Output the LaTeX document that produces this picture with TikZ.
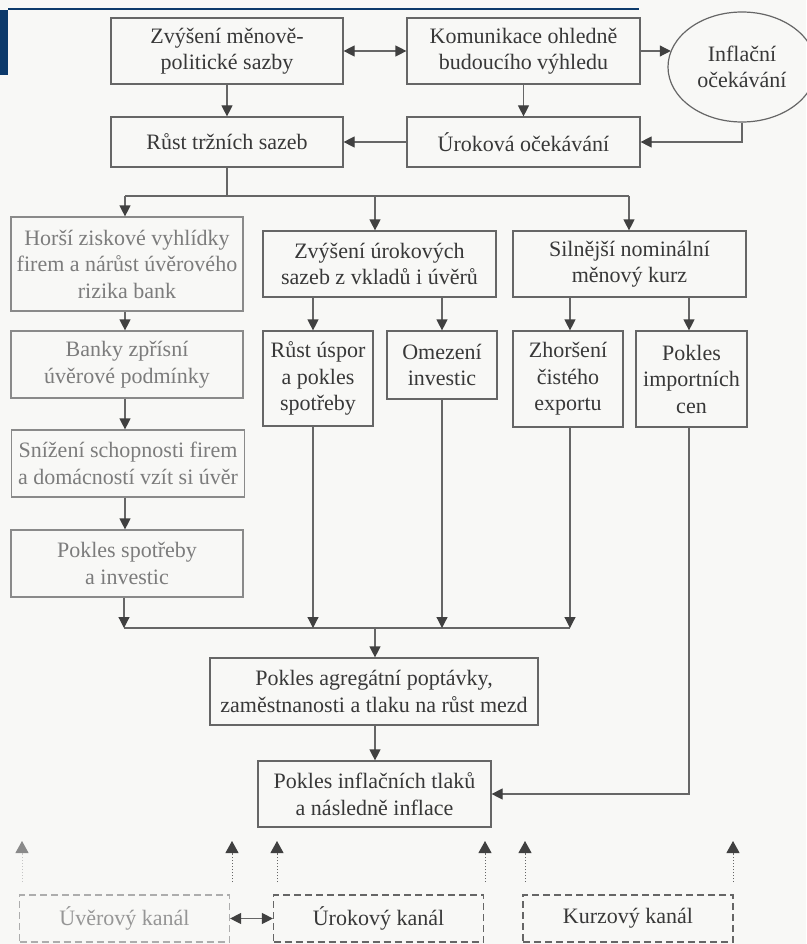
\documentclass[tikz,border=0pt]{standalone}
\usepackage{fontspec}
\setmainfont{Liberation Serif}
\usetikzlibrary{arrows.meta,shapes.geometric}
\definecolor{ink}{HTML}{383838}
\definecolor{lineC}{HTML}{666666}
\definecolor{tipC}{HTML}{404040}
\definecolor{faded}{HTML}{7C7C7C}
\definecolor{fadedline}{HTML}{8A8A8A}
\definecolor{navy}{HTML}{0D3A6B}
\definecolor{bgC}{HTML}{F8F8F6}
\begin{document}
\begin{tikzpicture}[x=1pt,y=-1pt,
  box/.style={draw=lineC, line width=1.2pt, text=ink, align=center, inner sep=0pt,
    font=\fontsize{22}{26.5}\selectfont},
  fbox/.style={box, text=faded, draw=fadedline},
  kbox/.style={box, dash pattern=on 7pt off 4pt, minimum width=210pt, minimum height=47pt},
  conn/.style={draw=lineC, line width=1.2pt},
  arr/.style={conn, -{Triangle[length=11pt,width=11pt,color=tipC]}},
  darr/.style={conn, {Triangle[length=11pt,width=11pt,color=tipC]}-{Triangle[length=11pt,width=11pt,color=tipC]}},
  dotl/.style={draw=lineC, line width=1pt, dotted},
  tiponly/.style={draw=lineC, line width=1pt, solid, -{Triangle[length=12pt,width=13pt,color=tipC]}},
]
\useasboundingbox (0,0) rectangle (806,944);
\fill[bgC] (0,0) rectangle (806,944);
% slide decoration
\fill[navy] (0,10) rectangle (8,75);
\draw[navy, line width=1.5pt] (8,9) -- (639,9);

% top row
\node[box, minimum width=232pt, minimum height=66pt] (b1) at (227,51) {Zvýšení měnově-\\politické sazby};
\node[box, minimum width=233pt, minimum height=66pt] (b2) at (523.5,51) {Komunikace ohledně\\budoucího výhledu};
\node[box, ellipse, minimum width=148pt, minimum height=110pt] (ell) at (742,67) {Inflační\\očekávání};
\node[box, minimum width=232pt, minimum height=50pt] (b3) at (227,142) {Růst tržních sazeb};
\node[box, minimum width=233pt, minimum height=50pt] (b4) at (523.5,142) {Úroková očekávání};

\draw[darr] (b1.east) -- (b2.west);
\draw[arr] (b2.east) -- (b2.east -| ell.167);
\draw[arr] (b1.south) -- (b3.north);
\draw[arr] (b2.south) -- (b4.north);
\draw[arr] (ell.south) |- (b4.east);
\draw[arr] (b4.west) -- (b3.east);

% split
\coordinate (s0) at (227,196);
\coordinate (sL) at (125,196);
\coordinate (sM) at (375,196);
\coordinate (sR) at (629,196);

% left column
\node[fbox, minimum width=232pt, minimum height=94pt] (l1) at (127,264) {Horší ziskové vyhlídky\\firem a nárůst úvěrového\\rizika bank};
\node[fbox, minimum width=232pt, minimum height=67pt] (l2) at (127,364.5) {Banky zpřísní\\úvěrové podmínky};
\node[fbox, minimum width=233pt, minimum height=67pt] (l3) at (128,463.5) {Snížení schopnosti firem\\a domácností vzít si úvěr};
\node[fbox, minimum width=232pt, minimum height=67pt] (l4) at (127,563.5) {Pokles spotřeby\\a investic};

% middle column
\node[box, minimum width=233pt, minimum height=66pt] (m) at (379.5,264) {Zvýšení úrokových\\sazeb z vkladů i úvěrů};
\node[box, minimum width=110pt, minimum height=95pt] (m1) at (318,378.5) {Růst úspor\\a pokles\\spotřeby};
\node[box, minimum width=110pt, minimum height=68pt] (m2) at (442,365) {Omezení\\investic};

% right column
\node[box, minimum width=233pt, minimum height=66pt] (r) at (629.5,264) {Silnější nominální\\měnový kurz};
\node[box, minimum width=110pt, minimum height=96pt] (r1) at (568,379) {Zhoršení\\čistého\\exportu};
\node[box, minimum width=111pt, minimum height=96pt] (r2) at (691.5,379) {Pokles\\importních\\cen};

\draw[conn] (b3.south) -- (s0);
\draw[conn] (sL) -- (sR);
\draw[arr] (sL) -- (sL |- l1.north);
\draw[arr] (sM) -- (sM |- m.north);
\draw[arr] (sR) -- (sR |- r.north);

\coordinate (xL) at (125,0);
\draw[arr] (l1.south -| xL) -- (l2.north -| xL);
\draw[arr] (l2.south -| xL) -- (l3.north -| xL);
\draw[arr] (l3.south -| xL) -- (l4.north -| xL);

\coordinate (xm1) at (313,0);
\coordinate (xm2) at (442,0);
\coordinate (xr1) at (570,0);
\coordinate (xr2) at (689,0);
\draw[arr] (m.south -| xm1) -- (m1.north -| xm1);
\draw[arr] (m.south -| xm2) -- (m2.north -| xm2);
\draw[arr] (r.south -| xr1) -- (r1.north -| xr1);
\draw[arr] (r.south -| xr2) -- (r2.north -| xr2);

% collector
\coordinate (cL) at (124,628);
\coordinate (c1) at (313,628);
\coordinate (c2) at (442,628);
\coordinate (c3) at (570,628);
\coordinate (cM) at (375,628);
\draw[conn] (cL) -- (c3);
\draw[arr] (l4.south -| cL) -- (cL);
\draw[arr] (m1.south -| c1) -- (c1);
\draw[arr] (m2.south -| c2) -- (c2);
\draw[arr] (r1.south -| c3) -- (c3);

\node[box, minimum width=328pt, minimum height=67pt] (agg) at (374,691.5) {Pokles agregátní poptávky,\\zaměstnanosti a tlaku na růst mezd};
\node[box, minimum width=233pt, minimum height=66pt] (infl) at (374.5,794) {Pokles inflačních tlaků\\a následně inflace};

\draw[arr] (cM) -- (cM |- agg.north);
\draw[arr] (agg.south -| cM) -- (infl.north -| cM);
\draw[arr] (r2.south -| xr2) |- (infl.east);

% channels
\node[kbox, draw=fadedline!70, text=faded!80] (k1) at (124.5,918.5) {Úvěrový kanál};
\node[kbox] (k2) at (378.5,918.5) {Úrokový kanál};
\node[kbox] (k3) at (628,918.5) {Kurzový kanál};
\draw[darr] (k1.east) -- (k2.west);

\coordinate (t1) at (22,882);   \coordinate (h1) at (22,841);
\coordinate (t2) at (232,882);  \coordinate (h2) at (232,841);
\coordinate (t3) at (277,882);  \coordinate (h3) at (277,841);
\coordinate (t4) at (485,882);  \coordinate (h4) at (485,841);
\coordinate (t5) at (525,882);  \coordinate (h5) at (525,841);
\coordinate (t6) at (733,882);  \coordinate (h6) at (733,841);
\draw[dotl, draw=fadedline!50] (t1) -- ([yshift=-10pt]h1);
\draw[draw=fadedline!50, line width=1pt, -{Triangle[length=12pt,width=13pt,color=fadedline]}] ([yshift=-13pt]h1) -- (h1);
\foreach \i in {2,...,6} {
  \draw[dotl] (t\i) -- ([yshift=-10pt]h\i);
  \draw[tiponly] ([yshift=-13pt]h\i) -- (h\i);
}
\end{tikzpicture}
\end{document}
